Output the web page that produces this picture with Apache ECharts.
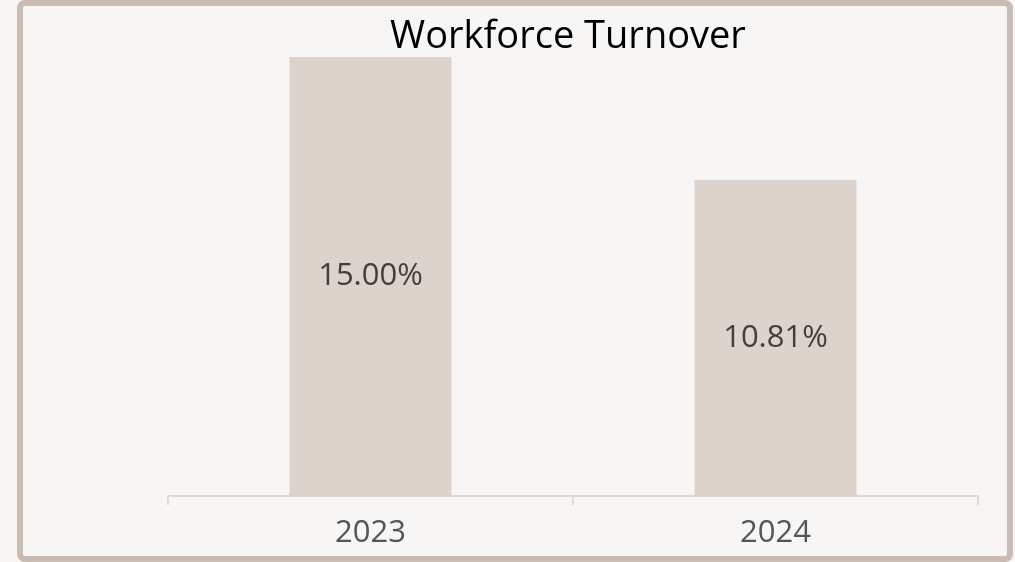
<!DOCTYPE html>
<html>
<head>
<meta charset="utf-8">
<script src="https://cdn.jsdelivr.net/npm/echarts@6/dist/echarts.min.js"></script>
<style>
  html, body { margin: 0; padding: 0; background: #f7f6f4; }
  #chart { position: absolute; left: 0; top: 0; width: 1015px; height: 562px; }
  #frame {
    position: absolute; left: 17px; top: 0; width: 996px; height: 562px;
    box-sizing: border-box; border: 6px solid #cbbcb3; border-radius: 8px;
    pointer-events: none;
  }
</style>
</head>
<body>
<div id="chart"></div>
<div id="frame"></div>
<script>
let years = ['2023', '2024'];
let turnover = [15.00, 10.81];

let dom = document.getElementById('chart');
let myChart = echarts.init(dom, null, { renderer: 'canvas' });
let option = {
    backgroundColor: '#f7f6f4',
    title: {
        text: 'Workforce Turnover',
        left: 563,
        top: 13,
        textAlign: 'center',
        textStyle: {
            fontFamily: 'Open Sans',
            fontSize: 38,
            fontWeight: 'normal',
            color: '#000000'
        }
    },
    grid: { left: 168, right: 37, top: 57, bottom: 66 },
    xAxis: {
        type: 'category',
        data: years,
        axisLine: { lineStyle: { color: '#dedad7', width: 2 } },
        axisTick: { show: true, length: 9, lineStyle: { color: '#dedad7', width: 2 } },
        axisLabel: {
            margin: 22,
            fontFamily: 'Open Sans',
            fontSize: 31,
            color: '#555555'
        }
    },
    yAxis: {
        type: 'value',
        min: 0,
        max: 15,
        show: false
    },
    series: [
        {
            type: 'bar',
            data: turnover,
            barWidth: '40%',
            itemStyle: { color: '#dcd3cd' },
            label: {
                show: true,
                position: 'inside',
                fontFamily: 'Open Sans',
                fontSize: 31,
                color: '#404040',
                formatter: function (p) { return p.value.toFixed(2) + '%'; }
            }
        }
    ]
};
myChart.setOption(option);
</script>
</body>
</html>
